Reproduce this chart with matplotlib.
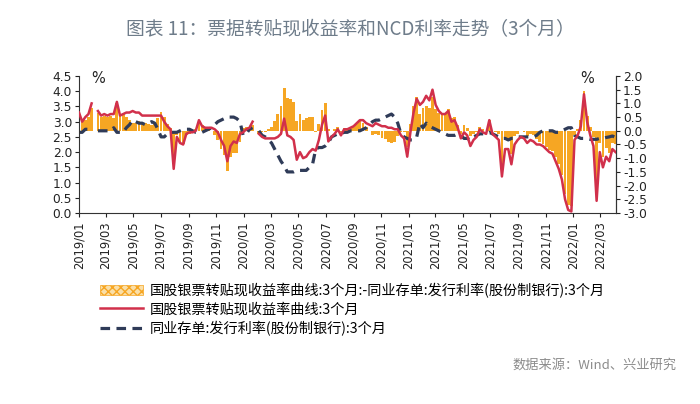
import numpy as np
import pandas as pd
import matplotlib
matplotlib.use('Agg')
import matplotlib.pyplot as plt
import matplotlib.dates as mdates
from matplotlib.patches import Patch
from matplotlib.lines import Line2D

plt.rcParams['font.family'] = ['DejaVu Sans']
CJK = ['Noto Sans CJK SC', 'DejaVu Sans']

# weekly points, starting 2019-01-01
dates = pd.date_range('2019-01-01', periods=171, freq='7D')

# 国股银票转贴现收益率曲线:3个月 (%)
discount_rate = [
    3.30, 3.00, 3.15, 3.25, 3.60, np.nan, 3.35, 3.20, 3.25, 3.20,
    3.25, 3.25, 3.65, 3.20, 3.25, 3.30, 3.30, 3.35, 3.30, 3.30,
    3.20, 3.20, 3.20, 3.20, 3.20, 3.20, 3.20, 3.00, 2.85, 2.75,
    1.45, 2.50, 2.30, 2.25, 2.60, 2.65, 2.65, 2.70, 3.05, 2.85,
    2.80, 2.80, 2.80, 2.75, 2.65, 2.40, 2.20, 1.70, 2.20, 2.35,
    2.30, 2.60, 2.65, 2.75, 2.80, 3.00, np.nan, 2.60, 2.50, 2.45,
    2.45, 2.45, 2.45, 2.50, 2.60, 3.10, 2.55, 2.50, 2.40, 1.75,
    2.00, 1.80, 1.85, 2.00, 2.10, 2.05, 2.40, 2.90, 3.20, 2.35,
    2.50, 2.60, 2.75, 2.55, 2.75, 2.75, 2.80, 2.85, 2.95, 3.05,
    3.05, 2.95, 2.90, 2.85, 2.95, 2.90, 2.85, 2.85, 2.80, 2.80,
    2.75, 2.75, 2.55, 2.45, 1.85, 2.65, 3.30, 3.75, 3.55, 3.65,
    3.85, 3.70, 4.05, 3.55, 3.35, 3.25, 3.25, 3.35, 3.00, 3.05,
    2.80, 2.45, 2.65, 2.55, 2.20, 2.40, 2.50, 2.75, 2.65, 2.60,
    3.05, 2.60, 2.50, 2.40, 1.20, 2.10, 2.10, 1.60, 2.25, 2.40,
    2.50, 2.45, 2.30, 2.40, 2.35, 2.25, 2.25, 2.20, 2.10, 2.00,
    1.95, 1.70, 1.45, 1.10, 0.45, 0.10, 0.05, 2.40, 2.55, 2.85,
    3.90, 3.00, 2.55, 2.20, 0.40, 2.00, 1.50, 1.85, 1.70, 2.10,
    2.00,
]

# 同业存单:发行利率(股份制银行):3个月 (%)
ncd_rate = [
    2.65, 2.65, 2.75, 2.75, 2.75, np.nan, 2.70, 2.70, 2.70, 2.70,
    2.70, 2.80, 2.65, 2.65, 2.65, 2.80, 2.90, 3.05, 3.00, 2.95,
    2.95, 2.90, 2.95, 3.00, 2.95, 2.75, 2.50, 2.50, 2.60, 2.65,
    2.65, 2.65, 2.70, 2.75, 2.75, 2.75, 2.70, 2.65, 2.65, 2.65,
    2.70, 2.75, 2.80, 2.90, 3.00, 3.05, 3.10, 3.15, 3.15, 3.15,
    3.10, 3.00, 2.55, 2.60, 2.75, 2.80, np.nan, 2.70, 2.55, 2.50,
    2.40, 2.30, 2.10, 1.90, 1.70, 1.55, 1.35, 1.35, 1.35, 1.40,
    1.40, 1.40, 1.40, 1.50, 1.60, 2.10, 2.15, 2.15, 2.20, 2.30,
    2.50, 2.55, 2.60, 2.60, 2.65, 2.65, 2.70, 2.70, 2.70, 2.70,
    2.75, 2.80, 2.90, 3.00, 3.05, 3.05, 3.10, 3.15, 3.20, 3.25,
    3.15, 2.95, 2.60, 2.50, 2.45, 2.40, 2.40, 2.50, 2.95, 2.80,
    2.95, 2.85, 2.80, 2.75, 2.70, 2.65, 2.60, 2.55, 2.55, 2.55,
    2.60, 2.55, 2.45, 2.45, 2.40, 2.50, 2.55, 2.60, 2.60, 2.60,
    2.65, 2.60, 2.55, 2.50, 2.45, 2.45, 2.40, 2.45, 2.45, 2.50,
    2.50, 2.50, 2.50, 2.50, 2.50, 2.55, 2.65, 2.70, 2.70, 2.70,
    2.70, 2.65, 2.65, 2.70, 2.75, 2.80, 2.80, 2.55, 2.50, 2.45,
    2.45, 2.45, 2.42, 2.42, 2.42, 2.45, 2.45, 2.48, 2.50, 2.53,
    2.48,
]

labels = ['国股银票转贴现收益率曲线:3个月:-同业存单:发行利率(股份制银行):3个月',
          '国股银票转贴现收益率曲线:3个月',
          '同业存单:发行利率(股份制银行):3个月']

discount_rate = np.array(discount_rate)
ncd_rate = np.array(ncd_rate)
spread = discount_rate - ncd_rate

ORANGE = '#F6A623'
RED = '#D1304B'
NAVY = '#2F3B58'

fig = plt.figure(figsize=(7, 4.04), dpi=100)
ax = fig.add_axes([79 / 700, 1 - 213 / 404, (616 - 79) / 700, (213 - 76) / 404])
ax2 = ax.twinx()

ax2.bar(dates, spread, width=6.3, color=ORANGE, linewidth=0)
ax.plot(dates, discount_rate, color=RED, lw=1.8, zorder=3)
ax.plot(dates, ncd_rate, color=NAVY, lw=2.3, dashes=(3, 2), zorder=2)

ax.set_zorder(ax2.get_zorder() + 1)
ax.patch.set_visible(False)

ax.set_ylim(0, 4.5)
ax.set_yticks(np.arange(0, 4.51, 0.5))
ax.set_yticklabels([f'{v:.1f}' for v in np.arange(0, 4.51, 0.5)])
ax2.set_ylim(-3, 2)
ax2.set_yticks(np.arange(-3, 2.01, 0.5))
ax2.set_yticklabels([f'{v:.1f}' for v in np.arange(-3, 2.01, 0.5)])

ax.set_xlim(pd.Timestamp('2019-01-01'), pd.Timestamp('2022-04-06'))
ax.xaxis.set_major_locator(mdates.MonthLocator(bymonth=[1, 3, 5, 7, 9, 11]))
ax.xaxis.set_major_formatter(mdates.DateFormatter('%Y/%m'))
for lab in ax.get_xticklabels():
    lab.set_rotation(90)

for a in (ax, ax2):
    a.spines['top'].set_visible(False)
    for s in a.spines.values():
        s.set_color('#333333')
        s.set_linewidth(0.8)
    a.tick_params(labelsize=8.8, colors='#222222', length=3, width=0.8, pad=2)
ax2.spines['left'].set_visible(False)
ax2.spines['bottom'].set_visible(False)
ax.tick_params(axis='x', labelsize=8.3, length=3, pad=3)

ax.text(0.035, 0.985, '%', transform=ax.transAxes, fontsize=10.5, ha='center', va='center', color='#222222')
ax.text(0.946, 0.985, '%', transform=ax.transAxes, fontsize=10.5, ha='center', va='center', color='#222222')

fig.text(0.5, 1 - 30 / 404, '图表 11：票据转贴现收益率和NCD利率走势（3个月）', ha='center', va='center',
         fontsize=13.5, color='#6E7C8A', family=CJK)

handles = [Patch(facecolor='#FADFA8', edgecolor=ORANGE, hatch='xxxx', linewidth=0.5),
           Line2D([], [], color=RED, lw=1.8),
           Line2D([], [], color=NAVY, lw=2.3, dashes=(3, 2))]
leg = fig.legend(handles, labels, loc='upper left', bbox_to_anchor=(100 / 700, 1 - 283 / 404),
                 frameon=False, prop={'family': CJK, 'size': 10.2}, handlelength=3.0,
                 labelspacing=0.3, handletextpad=0.5, borderaxespad=0, borderpad=0)

fig.text(677 / 700, 1 - 365 / 404, '数据来源：Wind、兴业研究', ha='right', va='center',
         fontsize=9.5, color='#8C8C8C', family=CJK)

fig.savefig('out.png', dpi=100)
